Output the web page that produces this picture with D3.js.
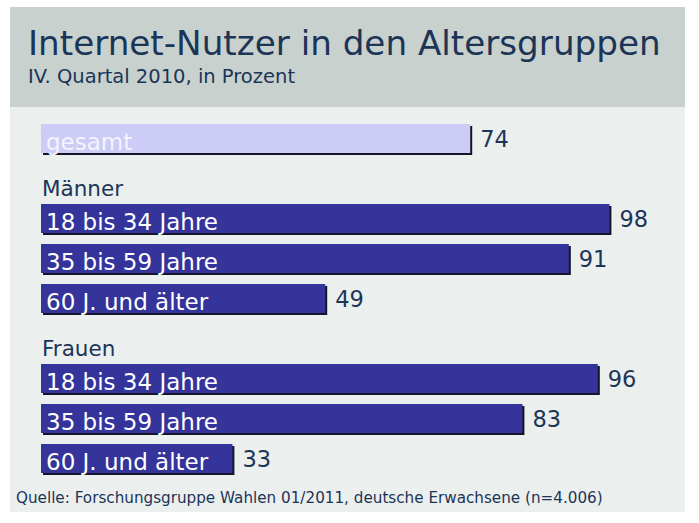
<!DOCTYPE html>
<html>
<head>
<meta charset="utf-8">
<script src="https://cdn.jsdelivr.net/npm/d3@7"></script>
<style>
  body { margin: 0; background: #fff; }
  text { font-family: "DejaVu Sans", sans-serif; }
</style>
</head>
<body>
<div id="chart"></div>
<script>
// data
var title = "Internet-Nutzer in den Altersgruppen";
var subtitle = "IV. Quartal 2010, in Prozent";
var source = "Quelle: Forschungsgruppe Wahlen 01/2011, deutsche Erwachsene (n=4.006)";
var groups = ["gesamt", "Männer", "Männer", "Männer", "Frauen", "Frauen", "Frauen"];
var labels = ["gesamt", "18 bis 34 Jahre", "35 bis 59 Jahre", "60 J. und älter",
              "18 bis 34 Jahre", "35 bis 59 Jahre", "60 J. und älter"];
var values = [74, 98, 91, 49, 96, 83, 33];

var width = 699, height = 523;
var navy = "#1b3557", barColor = "#35349b", totalColor = "#ccccf7", shadow = "#15152a";

var svg = d3.select("#chart").append("svg")
  .attr("width", width)
  .attr("height", height);

// header and panel
svg.append("rect").attr("x", 10).attr("y", 7).attr("width", 675).attr("height", 100).attr("fill", "#c9d1ce");
svg.append("rect").attr("x", 10).attr("y", 107).attr("width", 675).attr("height", 405).attr("fill", "#ebefee");

svg.append("text").attr("x", 28).attr("y", 55)
  .attr("font-size", 34.2).attr("fill", navy).text(title);
svg.append("text").attr("x", 28).attr("y", 83)
  .attr("font-size", 19.5).attr("fill", navy).text(subtitle);

// rows: a header slot is inserted whenever a new group (other than the first) starts
var rows = [], headers = [], slot = 0;
labels.forEach(function(l, i) {
  if (i > 0 && groups[i] !== groups[i - 1]) {
    headers.push({ name: groups[i], slot: slot });
    slot++;
  }
  rows.push({ label: l, value: values[i], total: i === 0, slot: slot });
  slot++;
});

var x = d3.scaleLinear().domain([0, 100]).range([41, 621]);
var y = d3.scaleLinear().domain([0, 1]).range([124, 164]);
var barH = 29;

svg.selectAll(".head").data(headers).enter().append("text")
  .attr("class", "head")
  .attr("x", 42)
  .attr("y", function(d) { return y(d.slot) + 32; })
  .attr("font-size", 21.5)
  .attr("fill", navy)
  .text(function(d) { return d.name; });

var bar = svg.selectAll(".bar").data(rows).enter().append("g").attr("class", "bar");

bar.append("rect")
  .attr("x", x(0) + 2)
  .attr("y", function(d) { return y(d.slot) + 2; })
  .attr("width", function(d) { return x(d.value) - x(0); })
  .attr("height", barH)
  .attr("fill", shadow);

bar.append("rect")
  .attr("x", x(0))
  .attr("y", function(d) { return y(d.slot); })
  .attr("width", function(d) { return x(d.value) - x(0); })
  .attr("height", barH)
  .attr("fill", function(d) { return d.total ? totalColor : barColor; });

bar.append("text")
  .attr("x", x(0) + 5)
  .attr("y", function(d) { return y(d.slot) + 26; })
  .attr("font-size", 23)
  .attr("fill", function(d) { return d.total ? "#f4f4ff" : "#fff"; })
  .text(function(d) { return d.label; });

bar.append("text")
  .attr("x", function(d) { return x(d.value) + 10; })
  .attr("y", function(d) { return y(d.slot) + 23; })
  .attr("font-size", 22.5)
  .attr("fill", navy)
  .text(function(d) { return d.value; });

svg.append("text").attr("x", 16).attr("y", 503)
  .attr("font-size", 15.2).attr("fill", navy).text(source);
</script>
</body>
</html>
